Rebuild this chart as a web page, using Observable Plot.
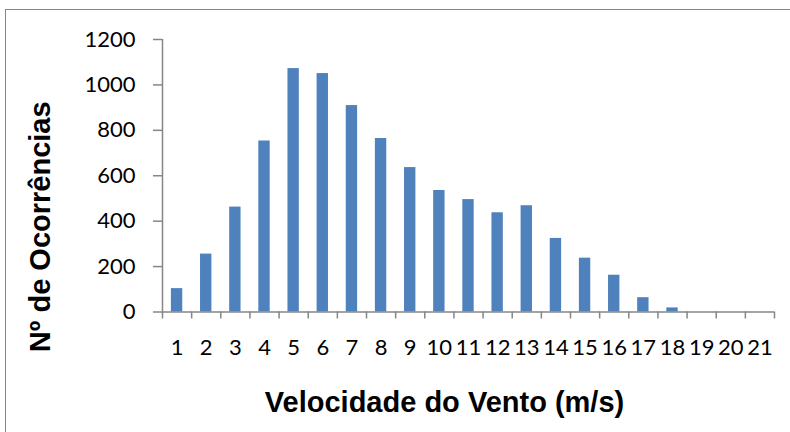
<!DOCTYPE html>
<html>
<head>
<meta charset="utf-8">
<script src="https://cdn.jsdelivr.net/npm/d3@7"></script>
<script src="https://cdn.jsdelivr.net/npm/@observablehq/plot@0.6"></script>
<style>
  html, body { margin: 0; padding: 0; background: #fff; width: 790px; height: 432px; overflow: hidden; }
  #frame { position: absolute; left: 5px; top: 9px; width: 900px; height: 500px; border: 1.5px solid #868686; box-sizing: border-box; }
  #chart { position: absolute; left: 0; top: 0; }
</style>
</head>
<body>
<div id="frame"></div>
<div id="chart"></div>
<script>
const speeds = [1, 2, 3, 4, 5, 6, 7, 8, 9, 10, 11, 12, 13, 14, 15, 16, 17, 18, 19, 20, 21];
const counts = [103, 255, 462, 753, 1072, 1050, 909, 764, 636, 535, 495, 437, 468, 324, 237, 162, 63, 18, 0, 0, 0];
const yTicks = [0, 200, 400, 600, 800, 1000, 1200];
const xTitle = "Velocidade do Vento (m/s)";
const yTitle = "Nº de Ocorrências";

const data = speeds.map((s, i) => ({ speed: s, count: counts[i] }));
const boundaries = speeds.map(s => s - 0.5).concat([speeds[speeds.length - 1] + 0.5]);
const half = 0.195;
const axisColor = "#868686";

const chart = Plot.plot({
  width: 790,
  height: 432,
  marginLeft: 162,
  marginRight: 16,
  marginTop: 39,
  marginBottom: 120.5,
  style: { fontFamily: "Lato", fontSize: "22px", color: "#000", background: "transparent" },
  x: { type: "linear", domain: [boundaries[0], boundaries[boundaries.length - 1]] },
  y: { domain: [0, 1200] },
  marks: [
    Plot.rectY(data, { x1: d => d.speed - half, x2: d => d.speed + half, y: "count", fill: "#4F81BD" }),
    Plot.axisY({ ticks: yTicks, tickSize: 9, tickPadding: 18, tickFormat: d => String(d), stroke: axisColor, strokeWidth: 1.5, label: null, fontSize: 22 }),
    Plot.axisX({ ticks: boundaries, tickSize: 7, tickFormat: () => "", stroke: axisColor, strokeWidth: 1.5, label: null }),
    Plot.axisX({ ticks: speeds, tickSize: 0, tickPadding: 27, tickFormat: d => String(d), label: null, fontSize: 22 }),
    Plot.ruleX([boundaries[0]], { y1: 0, y2: 1200, stroke: axisColor, strokeWidth: 1.5 }),
    Plot.ruleY([0], { stroke: axisColor, strokeWidth: 1.5 }),
    Plot.text([xTitle], { frameAnchor: "bottom", dx: -24, dy: 91, text: d => d, lineAnchor: "middle", textAnchor: "middle",
      fontFamily: "Liberation Sans", fontWeight: "bold", fontSize: 29, fill: "#000" }),
    Plot.text([yTitle], { frameAnchor: "left", dx: -122, dy: 51, rotate: -90, text: d => d, lineAnchor: "middle", textAnchor: "middle",
      fontFamily: "Liberation Sans", fontWeight: "bold", fontSize: 29, fill: "#000" })
  ]
});

document.getElementById("chart").append(chart);
</script>
</body>
</html>
